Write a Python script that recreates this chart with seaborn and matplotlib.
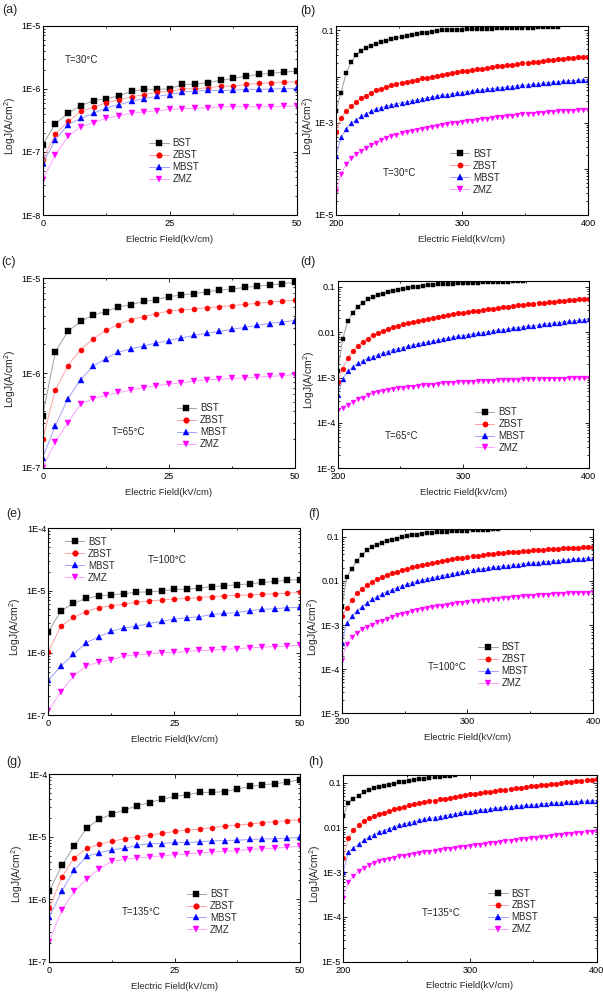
import numpy as np
import matplotlib
matplotlib.use("Agg")
import matplotlib.pyplot as plt
import seaborn as sns
from matplotlib.ticker import LogLocator, NullFormatter, MultipleLocator

sns.set_style("ticks")
plt.rcParams["font.family"] = ["Liberation Sans", "DejaVu Sans"]
plt.rcParams["mathtext.default"] = "regular"

samples = ["BST", "ZBST", "MBST", "ZMZ"]

# low field sweep (kV/cm), J in A/cm^2
field_lo = np.arange(0, 50.1, 2.5)

a_bst = [1.3e-7, 2.8e-7, 4.1e-7, 5.4e-7, 6.5e-7, 7.0e-7, 7.7e-7, 9.2e-7, 9.8e-7, 9.8e-7, 1.0e-6,
         1.17e-6, 1.19e-6, 1.25e-6, 1.36e-6, 1.46e-6, 1.59e-6, 1.69e-6, 1.76e-6, 1.84e-6, 1.91e-6]
a_zbst = [7.6e-8, 1.9e-7, 3.05e-7, 4.4e-7, 5.1e-7, 6.0e-7, 6.75e-7, 7.45e-7, 8.1e-7, 8.85e-7, 9.1e-7,
          1.0e-6, 1.0e-6, 1.04e-6, 1.1e-6, 1.1e-6, 1.17e-6, 1.22e-6, 1.25e-6, 1.28e-6, 1.29e-6]
a_mbst = [6.6e-8, 1.55e-7, 2.7e-7, 3.4e-7, 4.1e-7, 5.0e-7, 5.6e-7, 6.35e-7, 7.0e-7, 7.6e-7, 8.1e-7,
          8.85e-7, 9.2e-7, 9.4e-7, 9.4e-7, 9.5e-7, 9.8e-7, 9.8e-7, 9.9e-7, 1.0e-6, 1.02e-6]
a_zmz = [3.6e-8, 9.0e-8, 1.76e-7, 2.5e-7, 2.9e-7, 3.4e-7, 3.75e-7, 4.1e-7, 4.3e-7, 4.5e-7, 4.7e-7,
         4.85e-7, 4.9e-7, 5.0e-7, 5.2e-7, 5.2e-7, 5.2e-7, 5.2e-7, 5.2e-7, 5.3e-7, 5.3e-7]

c_bst = [3.55e-7, 1.67e-6, 2.75e-6, 3.5e-6, 4.1e-6, 4.45e-6, 5.0e-6, 5.25e-6, 5.7e-6, 5.95e-6, 6.4e-6,
         6.65e-6, 6.9e-6, 7.2e-6, 7.5e-6, 7.7e-6, 8.0e-6, 8.25e-6, 8.5e-6, 8.8e-6, 9.05e-6]
c_zbst = [2.0e-7, 6.6e-7, 1.2e-6, 1.76e-6, 2.29e-6, 2.82e-6, 3.25e-6, 3.67e-6, 3.93e-6, 4.23e-6, 4.52e-6,
          4.63e-6, 4.75e-6, 4.9e-6, 5.0e-6, 5.15e-6, 5.3e-6, 5.45e-6, 5.6e-6, 5.75e-6, 5.85e-6]
c_mbst = [1.28e-7, 2.77e-7, 5.37e-7, 8.5e-7, 1.18e-6, 1.42e-6, 1.67e-6, 1.79e-6, 1.94e-6, 2.07e-6, 2.2e-6,
          2.35e-6, 2.49e-6, 2.63e-6, 2.75e-6, 2.89e-6, 3.03e-6, 3.19e-6, 3.33e-6, 3.46e-6, 3.58e-6]
c_zmz = [1.0e-7, 1.87e-7, 3.0e-7, 4.67e-7, 5.37e-7, 5.83e-7, 6.23e-7, 6.6e-7, 7.0e-7, 7.36e-7, 7.6e-7,
         7.9e-7, 8.2e-7, 8.47e-7, 8.6e-7, 8.75e-7, 8.9e-7, 9.05e-7, 9.2e-7, 9.4e-7, 9.6e-7]

e_bst = [2.16e-6, 4.7e-6, 6.24e-6, 7.5e-6, 8.2e-6, 8.5e-6, 8.9e-6, 9.4e-6, 9.5e-6, 9.9e-6, 1.04e-5,
         1.05e-5, 1.1e-5, 1.16e-5, 1.19e-5, 1.24e-5, 1.28e-5, 1.35e-5, 1.4e-5, 1.47e-5, 1.5e-5]
e_zbst = [1.03e-6, 2.67e-6, 3.7e-6, 4.57e-6, 5.3e-6, 5.7e-6, 6.0e-6, 6.47e-6, 6.8e-6, 7.06e-6, 7.3e-6,
          7.5e-6, 7.7e-6, 8.0e-6, 8.2e-6, 8.4e-6, 8.5e-6, 8.7e-6, 8.9e-6, 9.05e-6, 9.3e-6]
e_mbst = [3.65e-7, 6.1e-7, 9.4e-7, 1.45e-6, 1.8e-6, 2.22e-6, 2.51e-6, 2.67e-6, 2.95e-6, 3.2e-6, 3.47e-6,
          3.65e-6, 3.79e-6, 4.13e-6, 4.29e-6, 4.4e-6, 4.74e-6, 4.98e-6, 5.1e-6, 5.3e-6, 5.37e-6]
e_zmz = [1.16e-7, 2.36e-7, 4.19e-7, 6.1e-7, 7.07e-7, 7.7e-7, 8.83e-7, 9.3e-7, 9.6e-7, 1.0e-6, 1.01e-6,
         1.05e-6, 1.09e-6, 1.1e-6, 1.14e-6, 1.16e-6, 1.2e-6, 1.23e-6, 1.26e-6, 1.28e-6, 1.32e-6]

g_bst = [1.35e-6, 3.49e-6, 7.07e-6, 1.4e-5, 1.9e-5, 2.32e-5, 2.69e-5, 3.12e-5, 3.53e-5, 4.0e-5, 4.42e-5,
         4.7e-5, 5.13e-5, 5.13e-5, 5.3e-5, 5.8e-5, 6.4e-5, 6.8e-5, 7.05e-5, 7.5e-5, 8.2e-5]
g_zbst = [7.17e-7, 2.26e-6, 4.64e-6, 6.49e-6, 7.62e-6, 8.5e-6, 9.3e-6, 1.0e-5, 1.06e-5, 1.13e-5, 1.22e-5,
          1.28e-5, 1.33e-5, 1.4e-5, 1.49e-5, 1.54e-5, 1.6e-5, 1.68e-5, 1.75e-5, 1.81e-5, 1.88e-5]
g_mbst = [5.13e-7, 1.35e-6, 2.97e-6, 4.88e-6, 5.52e-6, 6.25e-6, 6.49e-6, 7.34e-6, 7.7e-6, 7.8e-6, 8.1e-6,
          8.1e-6, 8.3e-6, 8.6e-6, 8.7e-6, 8.8e-6, 9.05e-6, 9.2e-6, 9.3e-6, 9.5e-6, 9.75e-6]
g_zmz = [2.1e-7, 6.8e-7, 1.33e-6, 2.13e-6, 3.08e-6, 4.05e-6, 4.36e-6, 4.58e-6, 4.76e-6, 4.94e-6, 5.19e-6,
         5.32e-6, 5.52e-6, 5.73e-6, 5.87e-6, 6.02e-6, 6.25e-6, 6.41e-6, 6.57e-6, 6.82e-6, 7.07e-6]

# high field sweep (kV/cm), log10 J (BST runs off the top early)
field_hi = np.arange(200, 401, 4)

b_bst = [-2.75, -2.35, -1.93, -1.69, -1.53, -1.44, -1.38, -1.33, -1.29, -1.25, -1.22, -1.19, -1.16,
         -1.14, -1.12, -1.10, -1.08, -1.06, -1.045, -1.03, -1.015, -1.0, -0.995, -0.99, -0.985, -0.98,
         -0.976, -0.972, -0.968, -0.965, -0.962, -0.959, -0.956, -0.953, -0.95, -0.947, -0.945, -0.942,
         -0.94, -0.937, -0.935, -0.933, -0.931, -0.929, -0.927]
b_zbst = [-3.19, -2.9, -2.75, -2.64, -2.55, -2.47, -2.41, -2.35, -2.30, -2.26, -2.22, -2.19, -2.16,
          -2.13, -2.11, -2.09, -2.065, -2.04, -2.02, -2.0, -1.98, -1.955, -1.935, -1.915, -1.9, -1.885,
          -1.87, -1.855, -1.84, -1.825, -1.81, -1.795, -1.78, -1.765, -1.75, -1.74, -1.725, -1.71, -1.70,
          -1.69, -1.675, -1.665, -1.65, -1.64, -1.625, -1.615, -1.605, -1.595, -1.585, -1.575, -1.565]
b_mbst = [-3.73, -3.32, -3.14, -3.01, -2.93, -2.86, -2.80, -2.75, -2.70, -2.67, -2.64, -2.61, -2.59,
          -2.57, -2.55, -2.53, -2.505, -2.485, -2.465, -2.445, -2.425, -2.405, -2.39, -2.375, -2.36, -2.345,
          -2.33, -2.315, -2.30, -2.29, -2.275, -2.26, -2.25, -2.24, -2.225, -2.215, -2.20, -2.19, -2.18,
          -2.17, -2.16, -2.145, -2.135, -2.125, -2.115, -2.105, -2.095, -2.09, -2.08, -2.075, -2.07]
b_zmz = [-4.49, -4.12, -3.90, -3.77, -3.68, -3.61, -3.55, -3.49, -3.43, -3.37, -3.33, -3.29, -3.26,
         -3.23, -3.20, -3.18, -3.155, -3.13, -3.11, -3.09, -3.07, -3.05, -3.03, -3.015, -3.0, -2.985,
         -2.97, -2.955, -2.94, -2.925, -2.91, -2.895, -2.88, -2.87, -2.855, -2.845, -2.83, -2.82, -2.81,
         -2.80, -2.79, -2.78, -2.77, -2.76, -2.75, -2.745, -2.74, -2.735, -2.73, -2.725, -2.72]

d_bst = [-2.85, -2.15, -1.76, -1.57, -1.44, -1.35, -1.28, -1.23, -1.19, -1.15, -1.12, -1.09, -1.065,
         -1.045, -1.025, -1.01, -0.995, -0.98, -0.97, -0.96, -0.95, -0.945, -0.938, -0.932, -0.927, -0.922,
         -0.917, -0.912, -0.908, -0.904, -0.90, -0.896, -0.892, -0.888, -0.885, -0.882, -0.879, -0.876]
d_zbst = [-3.09, -2.81, -2.57, -2.42, -2.30, -2.21, -2.14, -2.07, -2.02, -1.97, -1.93, -1.89, -1.86,
          -1.83, -1.80, -1.775, -1.75, -1.725, -1.70, -1.68, -1.66, -1.64, -1.62, -1.60, -1.585, -1.57,
          -1.555, -1.54, -1.525, -1.51, -1.495, -1.48, -1.465, -1.45, -1.44, -1.425, -1.41, -1.40, -1.385,
          -1.375, -1.36, -1.35, -1.34, -1.33, -1.32, -1.31, -1.30, -1.29, -1.28, -1.27, -1.26]
d_mbst = [-3.39, -3.03, -2.86, -2.76, -2.69, -2.63, -2.58, -2.54, -2.50, -2.46, -2.43, -2.39, -2.365,
          -2.34, -2.31, -2.285, -2.26, -2.24, -2.215, -2.195, -2.175, -2.155, -2.135, -2.115, -2.095, -2.075,
          -2.06, -2.04, -2.025, -2.01, -1.99, -1.975, -1.96, -1.945, -1.93, -1.915, -1.90, -1.885, -1.87,
          -1.86, -1.845, -1.83, -1.815, -1.80, -1.79, -1.78, -1.765, -1.755, -1.74, -1.73, -1.72]
d_zmz = [-3.72, -3.67, -3.60, -3.54, -3.48, -3.44, -3.39, -3.35, -3.32, -3.30, -3.27, -3.255, -3.24,
         -3.225, -3.21, -3.20, -3.19, -3.175, -3.165, -3.155, -3.14, -3.13, -3.12, -3.11, -3.105, -3.10,
         -3.095, -3.09, -3.085, -3.08, -3.075, -3.07, -3.065, -3.06, -3.055, -3.05, -3.045, -3.042, -3.04,
         -3.037, -3.034, -3.031, -3.028, -3.026, -3.024, -3.022, -3.02, -3.018, -3.017, -3.016, -3.015]

f_bst = [-2.6, -1.92, -1.72, -1.54, -1.41, -1.31, -1.24, -1.18, -1.14, -1.10, -1.065, -1.04, -1.015,
         -0.99, -0.965, -0.95, -0.935, -0.92, -0.91, -0.90, -0.89, -0.885, -0.878, -0.87, -0.864, -0.858,
         -0.852, -0.846, -0.84, -0.836, -0.832, -0.828]
f_zbst = [-2.80, -2.62, -2.43, -2.28, -2.18, -2.10, -2.02, -1.96, -1.91, -1.865, -1.825, -1.79, -1.755,
          -1.725, -1.695, -1.67, -1.645, -1.62, -1.595, -1.57, -1.55, -1.53, -1.51, -1.49, -1.47, -1.46,
          -1.445, -1.43, -1.415, -1.40, -1.385, -1.375, -1.365, -1.355, -1.345, -1.335, -1.325, -1.32, -1.31,
          -1.30, -1.295, -1.285, -1.28, -1.27, -1.265, -1.255, -1.25, -1.245, -1.24, -1.235, -1.23]
f_mbst = [-3.41, -2.96, -2.80, -2.69, -2.58, -2.50, -2.42, -2.36, -2.30, -2.245, -2.20, -2.155, -2.11,
          -2.075, -2.04, -2.01, -1.985, -1.955, -1.93, -1.905, -1.88, -1.86, -1.835, -1.815, -1.795, -1.775,
          -1.76, -1.74, -1.725, -1.71, -1.695, -1.68, -1.665, -1.655, -1.64, -1.63, -1.615, -1.605, -1.595,
          -1.585, -1.575, -1.565, -1.555, -1.545, -1.535, -1.525, -1.515, -1.505, -1.495, -1.485, -1.475]
f_zmz = [-3.79, -3.42, -3.27, -3.17, -3.10, -3.04, -2.99, -2.94, -2.90, -2.86, -2.82, -2.78, -2.75,
         -2.72, -2.69, -2.665, -2.64, -2.615, -2.595, -2.575, -2.56, -2.54, -2.525, -2.51, -2.495, -2.48,
         -2.465, -2.45, -2.44, -2.425, -2.415, -2.40, -2.39, -2.38, -2.37, -2.36, -2.35, -2.345, -2.335,
         -2.325, -2.32, -2.31, -2.305, -2.30, -2.29, -2.285, -2.28, -2.275, -2.27, -2.265, -2.26]

h_bst = [-1.75, -1.46, -1.36, -1.29, -1.22, -1.17, -1.13, -1.10, -1.07, -1.045, -1.02, -0.995, -0.975,
         -0.955, -0.94, -0.925, -0.91, -0.895, -0.88, -0.87, -0.86, -0.85, -0.84]
h_zbst = [-2.68, -2.24, -2.06, -1.95, -1.865, -1.80, -1.75, -1.71, -1.67, -1.635, -1.60, -1.57, -1.54,
          -1.51, -1.485, -1.46, -1.44, -1.42, -1.40, -1.375, -1.355, -1.335, -1.315, -1.295, -1.275, -1.26,
          -1.245, -1.23, -1.215, -1.20, -1.185, -1.17, -1.155, -1.14, -1.125, -1.11, -1.095, -1.085, -1.07,
          -1.06, -1.045, -1.035, -1.02, -1.01, -0.995, -0.985, -0.97, -0.96, -0.945, -0.935, -0.92]
h_mbst = [-2.99, -2.56, -2.46, -2.37, -2.29, -2.22, -2.16, -2.11, -2.07, -2.03, -1.99, -1.955, -1.925,
          -1.895, -1.87, -1.845, -1.82, -1.80, -1.78, -1.76, -1.74, -1.72, -1.70, -1.68, -1.665, -1.65,
          -1.635, -1.62, -1.605, -1.59, -1.575, -1.565, -1.55, -1.54, -1.53, -1.52, -1.51, -1.50, -1.49,
          -1.48, -1.47, -1.46, -1.455, -1.445, -1.44, -1.43, -1.425, -1.42, -1.415, -1.41, -1.40]
h_zmz = [-3.58, -3.21, -3.08, -2.98, -2.90, -2.84, -2.80, -2.76, -2.73, -2.70, -2.675, -2.65, -2.63,
         -2.61, -2.59, -2.575, -2.56, -2.54, -2.525, -2.51, -2.49, -2.475, -2.46, -2.445, -2.43, -2.415,
         -2.40, -2.385, -2.37, -2.355, -2.34, -2.325, -2.31, -2.295, -2.28, -2.27, -2.255, -2.245, -2.23,
         -2.22, -2.205, -2.19, -2.18, -2.17, -2.155, -2.145, -2.13, -2.12, -2.105, -2.095, -2.08]

lo_ticks = ["1E-8", "1E-7", "1E-6", "1E-5", "1E-4"]
hi_ticks = ["1E-5", "1E-4", "1E-3", "0.01", "0.1"]

marker_col = {"BST": "#000000", "ZBST": "#ff0000", "MBST": "#0000ff", "ZMZ": "#ff00ff"}
line_col = {"BST": "#a0a0a0", "ZBST": "#ffa0a0", "MBST": "#a0a0ff", "ZMZ": "#ffa0ff"}
marks = {"BST": "s", "ZBST": "o", "MBST": "^", "ZMZ": "v"}

W, H = 603, 992
fig = plt.figure(figsize=(W / 100, H / 100), dpi=100)

# pixel boxes: left, top, right, bottom
panels = [
    dict(tag="(a)", tag_xy=(2, 10), box=(42.7, 25.7, 296.7, 215), hi=False,
         data=[a_bst, a_zbst, a_mbst, a_zmz], ylim=(1e-8, 1e-5), temp="T=30°C",
         temp_xy=(0.088, 0.82), leg_xy=(0.42, 0.405)),
    dict(tag="(b)", tag_xy=(300.7, 11), box=(336, 26, 588, 215), hi=True,
         data=[b_bst, b_zbst, b_mbst, b_zmz], ylim=(1e-5, 0.125), temp="T=30°C",
         temp_xy=(0.187, 0.22), leg_xy=(0.452, 0.35), skip=["0.01", "1E-4"]),
    dict(tag="(c)", tag_xy=(1.7, 262), box=(42.7, 278.3, 295, 467.7), hi=False,
         data=[c_bst, c_zbst, c_mbst, c_zmz], ylim=(1e-7, 1e-5), temp="T=65°C",
         temp_xy=(0.275, 0.19), leg_xy=(0.531, 0.34)),
    dict(tag="(d)", tag_xy=(300.7, 262), box=(337.7, 281, 588.7, 468.3), hi=True,
         data=[d_bst, d_zbst, d_mbst, d_zmz], ylim=(1e-5, 0.134), temp="T=65°C",
         temp_xy=(0.188, 0.17), leg_xy=(0.547, 0.327)),
    dict(tag="(e)", tag_xy=(6.7, 514), box=(48.3, 528.3, 300, 715), hi=False,
         data=[e_bst, e_zbst, e_mbst, e_zmz], ylim=(1e-7, 1e-4), temp="T=100°C",
         temp_xy=(0.397, 0.83), leg_xy=(0.066, 0.955)),
    dict(tag="(f)", tag_xy=(308.3, 514), box=(341.7, 529, 593.3, 713.3), hi=True,
         data=[f_bst, f_zbst, f_mbst, f_zmz], ylim=(1e-5, 0.15), temp="T=100°C",
         temp_xy=(0.344, 0.253), leg_xy=(0.543, 0.385)),
    dict(tag="(g)", tag_xy=(6, 762), box=(49.3, 774.3, 300, 961.7), hi=False,
         data=[g_bst, g_zbst, g_mbst, g_zmz], ylim=(1e-7, 1e-4), temp="T=135°C",
         temp_xy=(0.289, 0.267), leg_xy=(0.548, 0.388)),
    dict(tag="(h)", tag_xy=(308.3, 762), box=(343.3, 775, 596.7, 961.7), hi=True,
         data=[h_bst, h_zbst, h_mbst, h_zmz], ylim=(1e-5, 0.148), temp="T=135°C",
         temp_xy=(0.309, 0.26), leg_xy=(0.572, 0.392)),
]

for p in panels:
    l, t, r, b = p["box"]
    ax = fig.add_axes([l / W, 1 - b / H, (r - l) / W, (b - t) / H])
    for name, vals in zip(samples, p["data"]):
        if p["hi"]:
            x = field_hi[:len(vals)]
            y = np.power(10.0, vals)
            ms = 3.5
        else:
            x = field_lo
            y = np.array(vals)
            ms = 3.7
        sns.lineplot(x=x, y=y, ax=ax, color=line_col[name], lw=0.7,
                     marker=marks[name], markersize=ms,
                     markerfacecolor=marker_col[name], markeredgecolor=marker_col[name],
                     markeredgewidth=0.3, label=name, errorbar=None)

    ax.set_yscale("log")
    ax.set_ylim(*p["ylim"])
    if p["hi"]:
        ax.set_xlim(200, 400)
        ax.set_xticks([200, 300, 400])
        ax.xaxis.set_minor_locator(MultipleLocator(50))
        labels = hi_ticks
        ticks = [1e-5, 1e-4, 1e-3, 1e-2, 1e-1]
        skip = p.get("skip", [])
        labels = ["" if s in skip else s for s in labels]
    else:
        ax.set_xlim(0, 50)
        ax.set_xticks([0, 25, 50])
        ax.xaxis.set_minor_locator(MultipleLocator(12.5))
        ticks = [1e-8, 1e-7, 1e-6, 1e-5, 1e-4]
        labels = lo_ticks
    lo, up = p["ylim"]
    keep = [(tk, lb) for tk, lb in zip(ticks, labels) if lo * 0.999 <= tk <= up * 1.001]
    ax.set_yticks([k[0] for k in keep])
    ax.set_yticklabels([k[1] for k in keep])
    ax.yaxis.set_minor_locator(LogLocator(base=10, subs=np.arange(2, 10)))
    ax.yaxis.set_minor_formatter(NullFormatter())

    ax.tick_params(which="both", direction="in", top=True, right=True,
                   labelsize=6.6, width=0.6, colors="black")
    ax.tick_params(axis="y", pad=1.5)
    ax.tick_params(axis="x", pad=3)
    ax.tick_params(which="major", length=3)
    ax.tick_params(which="minor", length=1.6)
    for sp in ax.spines.values():
        sp.set_linewidth(0.8)
        sp.set_color("black")

    ax.set_xlabel("Electric Field(kV/cm)", fontsize=6.8, va="center")
    ax.set_ylabel("LogJ(A/cm$^2$)", fontsize=7.4, va="center")
    ax.xaxis.set_label_coords(0.5, -0.13)
    ax.yaxis.set_label_coords(-0.13 if not p["hi"] else -0.112, 0.47)

    ax.text(p["temp_xy"][0], p["temp_xy"][1], p["temp"], transform=ax.transAxes,
            fontsize=7, ha="left", va="center")
    ax.legend(loc="upper left", bbox_to_anchor=p["leg_xy"], frameon=False, fontsize=7,
              borderpad=0, borderaxespad=0, handlelength=2.0, handletextpad=0.4,
              labelspacing=0.2, markerscale=1.1)

    fig.text(p["tag_xy"][0] / W, 1 - p["tag_xy"][1] / H, p["tag"], fontsize=9,
             ha="left", va="center")

fig.savefig("out.png", dpi=100)
